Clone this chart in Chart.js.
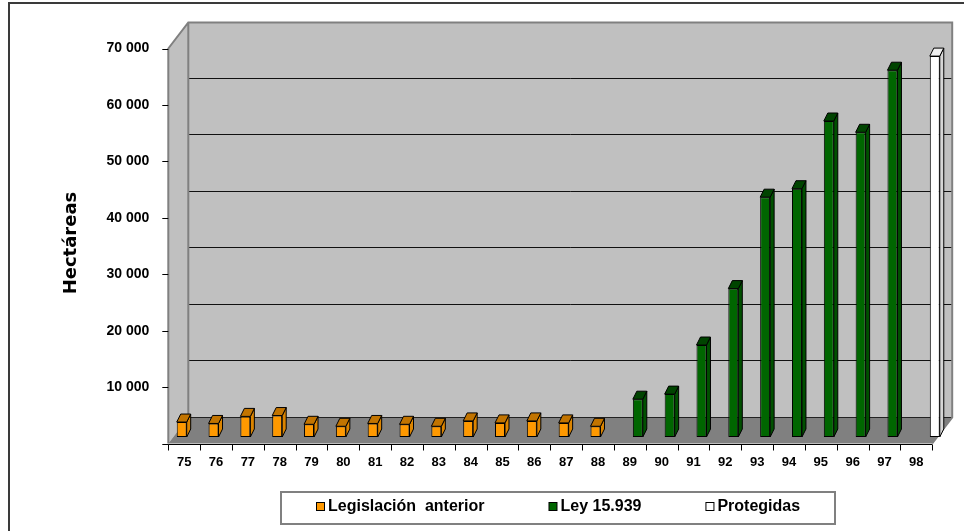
<!DOCTYPE html>
<html>
<head>
<meta charset="utf-8">
<script src="https://cdn.jsdelivr.net/npm/chart.js@4.4.1/dist/chart.umd.min.js"></script>
<style>
  html, body { margin: 0; padding: 0; background: #fff; }
</style>
</head>
<body>
<canvas id="hectareasChart" width="964" height="531"></canvas>
<script>
// ---- data ----
const years = ['75', '76', '77', '78', '79', '80', '81', '82', '83', '84', '85', '86',
               '87', '88', '89', '90', '91', '92', '93', '94', '95', '96', '97', '98'];
const legislacionAnterior = [2650, 2400, 3650, 3800, 2250, 1900, 2400, 2250, 1900, 2850, 2500, 2850,
                             2500, 1900, null, null, null, null, null, null, null, null, null, null];
const ley15939 = [null, null, null, null, null, null, null, null, null, null, null, null,
                  null, null, 6700, 7600, 16300, 26300, 42500, 44000, 56000, 54000, 65000, null];
const protegidas = [null, null, null, null, null, null, null, null, null, null, null, null,
                    null, null, null, null, null, null, null, null, null, null, null, 67500];
const seriesNames = ['Legislación  anterior', 'Ley 15.939', 'Protegidas'];
const yMax = 70000;
const yStep = 10000;

// ---- look ----
const frontColours = ['#FF9900', '#006600', '#FFFFFF'];
const topColours = ['#C27400', '#004400', '#EEEEEE'];
const sideColours = ['#DB8400', '#005000', '#D6D6D6'];
const ARIAL = "'Liberation Sans', Arial, sans-serif";

// 3d geometry (pixels)
const ROW_SHIFT = 8;      // front axis sits this far left of the bar rows
const FRONT_DROP = 6.5;   // front plane sits this far below the bar rows
const DEPTH_DX = 20;      // front -> back wall
const DEPTH_DY = -26;
const BAR_DX = 4;         // bar depth
const BAR_DY = -8;

function formatThousands(v) {
    return String(v).replace(/\B(?=(\d{3})+(?!\d))/g, ' ');
}

function poly(ctx, pts, fill, stroke, lw) {
    ctx.beginPath();
    ctx.moveTo(pts[0][0], pts[0][1]);
    for (let i = 1; i < pts.length; i++) ctx.lineTo(pts[i][0], pts[i][1]);
    ctx.closePath();
    if (fill) { ctx.fillStyle = fill; ctx.fill(); }
    if (stroke) { ctx.strokeStyle = stroke; ctx.lineWidth = lw || 1; ctx.stroke(); }
}

// walls, floor, front axes, category labels and axis title
const framePlugin = {
    id: 'frame3d',
    beforeDraw: (chart) => {
        const ctx = chart.ctx;
        const xs = chart.scales.x;
        const ys = chart.scales.y;
        const fl = xs.left - ROW_SHIFT;
        const fr = xs.right - ROW_SHIFT;
        const fy = (v) => ys.getPixelForValue(v) + FRONT_DROP;
        const ft = fy(yMax), fb = fy(0);
        const bl = fl + DEPTH_DX, br = fr + DEPTH_DX;
        const bt = ft + DEPTH_DY, bb = fb + DEPTH_DY;
        ctx.save();

        ctx.fillStyle = '#ffffff';
        ctx.fillRect(0, 0, chart.width, chart.height);
        ctx.strokeStyle = '#3a3a3a';
        ctx.lineWidth = 2;
        ctx.strokeRect(9, 3, chart.width + 20, chart.height + 20);

        // back wall + left wall
        poly(ctx, [[bl, bt], [br, bt], [br, bb], [bl, bb]], '#C0C0C0');
        poly(ctx, [[fl, ft], [bl, bt], [bl, bb], [fl, fb]], '#C0C0C0');

        // gridlines on the back wall
        ctx.strokeStyle = '#111';
        ctx.lineWidth = 1;
        for (let v = yStep; v < yMax; v += yStep) {
            const y = Math.round(fy(v) + DEPTH_DY) - 0.5;
            ctx.beginPath();
            ctx.moveTo(bl, y);
            ctx.lineTo(br, y);
            ctx.stroke();
        }

        // floor
        poly(ctx, [[fl, fb], [fr, fb], [br, bb], [bl, bb]], '#808080');
        ctx.strokeStyle = '#222';
        ctx.beginPath();
        ctx.moveTo(bl, bb);
        ctx.lineTo(br, bb);
        ctx.stroke();

        // wall edges
        ctx.strokeStyle = '#808080';
        ctx.lineWidth = 2;
        ctx.beginPath();
        ctx.moveTo(fl, fb);
        ctx.lineTo(fl, ft);
        ctx.lineTo(bl, bt);
        ctx.lineTo(br, bt);
        ctx.lineTo(br, bb);
        ctx.lineTo(fr, fb);
        ctx.moveTo(bl, bt);
        ctx.lineTo(bl, bb);
        ctx.stroke();

        // front value axis tick marks
        ctx.strokeStyle = '#000';
        ctx.lineWidth = 1;
        for (let v = 0; v <= yMax; v += yStep) {
            const y = Math.round(fy(v)) + 0.5;
            ctx.beginPath();
            ctx.moveTo(fl - 6, y);
            ctx.lineTo(fl, y);
            ctx.stroke();
        }

        // front category axis
        const ay = Math.round(fb) + 0.5;
        ctx.beginPath();
        ctx.moveTo(fl, ay);
        ctx.lineTo(fr, ay);
        ctx.stroke();
        const cw = (fr - fl) / years.length;
        for (let i = 0; i <= years.length; i++) {
            const x = Math.round(fl + i * cw) + 0.5;
            ctx.beginPath();
            ctx.moveTo(x, ay);
            ctx.lineTo(x, ay + 6);
            ctx.stroke();
        }
        ctx.fillStyle = '#000';
        ctx.font = 'bold 13px ' + ARIAL;
        ctx.textAlign = 'center';
        ctx.textBaseline = 'middle';
        years.forEach((label, i) => {
            ctx.fillText(label, fl + (i + 0.5) * cw, ay + 18);
        });

        // axis title
        ctx.translate(71, (ft + fb) / 2 - 3);
        ctx.rotate(-Math.PI / 2);
        ctx.font = "bold 18px 'DejaVu Sans', sans-serif";
        ctx.fillText('Hectáreas', 0, 0);
        ctx.restore();
    },
    // top and side faces of the columns
    afterDatasetsDraw: (chart) => {
        const ctx = chart.ctx;
        ctx.save();
        chart.data.datasets.forEach((ds, i) => {
            const meta = chart.getDatasetMeta(i);
            meta.data.forEach((bar, j) => {
                if (ds.data[j] == null) return;
                const p = bar.getProps(['x', 'y', 'width', 'base'], true);
                const l = p.x - p.width / 2;
                const r = p.x + p.width / 2;
                poly(ctx, [[r, p.y], [r + BAR_DX, p.y + BAR_DY], [r + BAR_DX, p.base + BAR_DY], [r, p.base]],
                     sideColours[i], '#000', 1);
                poly(ctx, [[l, p.y], [l + BAR_DX, p.y + BAR_DY], [r + BAR_DX, p.y + BAR_DY], [r, p.y]],
                     topColours[i], '#000', 1);
            });
        });
        ctx.restore();
    },
    // boxed legend under the plot
    afterDraw: (chart) => {
        const ctx = chart.ctx;
        ctx.save();
        ctx.strokeStyle = '#808080';
        ctx.lineWidth = 2;
        ctx.strokeRect(281, 492, 554, 32);
        ctx.font = 'bold 16px ' + ARIAL;
        ctx.textAlign = 'left';
        ctx.textBaseline = 'middle';
        let x = 316;
        const cy = 507;
        chart.data.datasets.forEach((ds, i) => {
            ctx.fillStyle = ds.backgroundColor;
            ctx.fillRect(x + 0.5, cy - 4.5, 8, 8);
            ctx.strokeStyle = '#000';
            ctx.lineWidth = 1;
            ctx.strokeRect(x + 0.5, cy - 4.5, 8, 8);
            ctx.fillStyle = '#000';
            ctx.fillText(ds.label, x + 12, cy);
            x += 12 + ctx.measureText(ds.label).width + 64;
        });
        ctx.restore();
    }
};

const ctx = document.getElementById('hectareasChart').getContext('2d');
const chart = new Chart(ctx, {
    type: 'bar',
    data: {
        labels: years,
        datasets: [legislacionAnterior, ley15939, protegidas].map((d, i) => ({
            label: seriesNames[i],
            data: d,
            backgroundColor: frontColours[i],
            borderColor: '#000',
            borderWidth: 1,
            borderSkipped: false,
            categoryPercentage: 0.99,
            barPercentage: 0.95
        }))
    },
    options: {
        responsive: false,
        animation: false,
        layout: {
            padding: { left: 20, right: 23.8, top: 42, bottom: 0 }
        },
        scales: {
            x: {
                grid: { display: false },
                border: { display: false },
                ticks: { display: false },
                afterFit: (scale) => { scale.height = 94; }
            },
            y: {
                min: 0,
                max: yMax,
                grid: { display: false },
                border: { display: false },
                ticks: {
                    stepSize: yStep,
                    color: '#000',
                    padding: 19,
                    labelOffset: FRONT_DROP,
                    font: { family: ARIAL, size: 14, weight: 'bold' },
                    callback: (v) => v === 0 ? '' : formatThousands(v)
                },
                afterFit: (scale) => { scale.width = 156.3; }
            }
        },
        plugins: {
            legend: { display: false },
            tooltip: { enabled: false }
        }
    },
    plugins: [framePlugin]
});
</script>
</body>
</html>
